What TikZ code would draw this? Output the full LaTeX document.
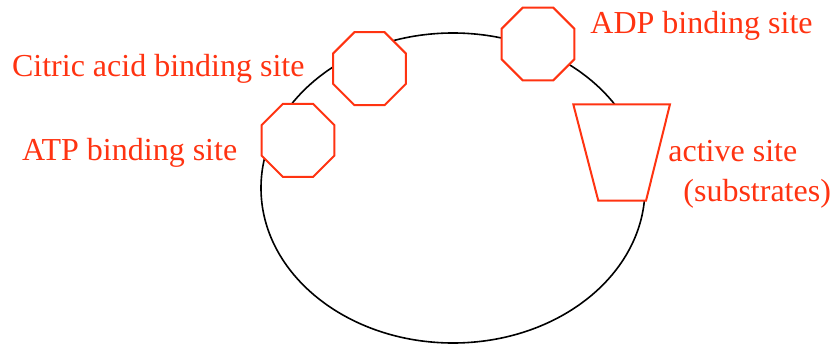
\documentclass[tikz,border=0pt]{standalone}
\usepackage{fontspec}
\setmainfont{Liberation Serif}
\usetikzlibrary{shapes.geometric, positioning}
\definecolor{siteRed}{RGB}{255,51,17}

\begin{document}
\begin{tikzpicture}[x=0.5pt, y=0.5pt,
        site/.style={draw=siteRed, line width=1pt, fill=white, regular polygon, regular polygon sides=8, minimum size=39.5pt, inner sep=0pt},
        pocket/.style={draw=siteRed, line width=1pt, fill=white, line join=miter},
        tag/.style={text=siteRed, font=\fontsize{16}{19}\selectfont, inner sep=0pt, anchor=base west}
    ]
        \useasboundingbox (0,0) rectangle (832,344);

        % the enzyme
        \draw[line width=0.8pt] (453,156) ellipse [x radius=192, y radius=155];

        % binding sites
        \node[site] (citric) at (369.5,275.3) {};
        \node[site] (atp) at (298,203.6) {};
        \node[site] (adp) at (538,300) {};

        % active site pocket
        \coordinate (pocketTL) at (573.3,239.7);
        \coordinate (pocketTR) at (670,239.7);
        \coordinate (pocketBR) at (646,143.3);
        \coordinate (pocketBL) at (598.3,143.3);
        \draw[pocket] (pocketTL) -- (pocketTR) -- (pocketBR) -- (pocketBL) -- cycle;

        % labels
        \node[tag] (citriclbl) at (11.7,268) {Citric acid binding site};
        \node[tag] (atplbl) at (21.7,183.3) {ATP binding site};
        \node[tag] (adplbl) at (590,311) {ADP binding site};
        \node[tag] (activelbl) at (668,182.3) {active site};
        \node[tag] (sublbl) at (683,142.3) {(substrates)};

    \end{tikzpicture}
\end{document}
